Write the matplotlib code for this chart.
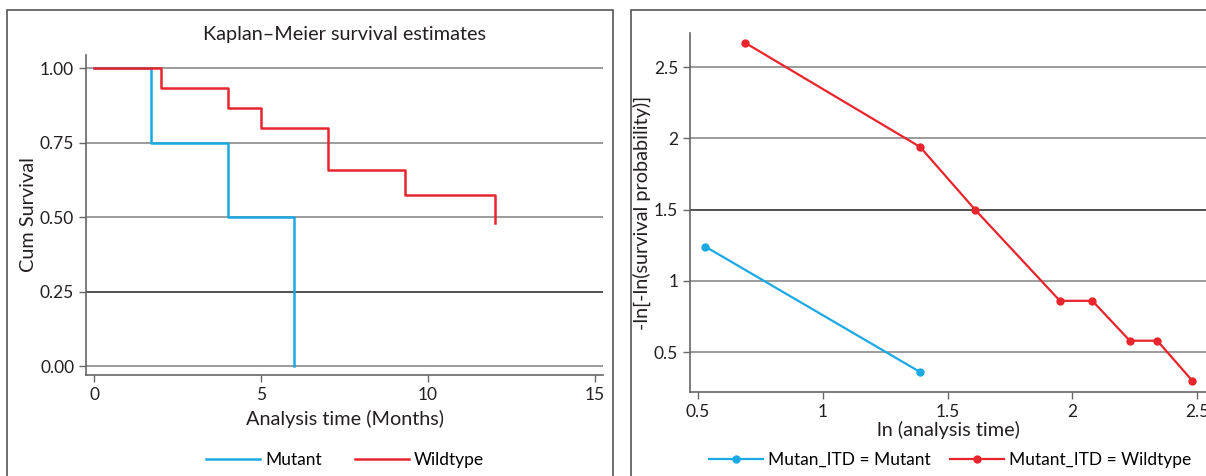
import numpy as np
import matplotlib.pyplot as plt
from matplotlib.patches import Rectangle

plt.rcParams['font.family'] = ['Lato', 'DejaVu Sans']

# Kaplan-Meier steps (months, cumulative survival)
mut_t = [0, 1.7, 4, 6, 6]
mut_s = [1.0, 0.75, 0.50, 0.0, 0.0]
wild_t = [0, 2, 4, 5, 7, 9.3, 12, 12]
wild_s = [1.0, 0.933, 0.867, 0.80, 0.657, 0.575, 0.575, 0.48]

# log-log plot
mut_lx = [0.53, 1.39]
mut_ly = [1.24, 0.36]
wild_lx = [0.69, 1.39, 1.61, 1.95, 2.08, 2.23, 2.34, 2.48]
wild_ly = [2.67, 1.94, 1.50, 0.86, 0.86, 0.58, 0.58, 0.30]

km_xticks = [0, 5, 10, 15]
km_yticks = [0.0, 0.25, 0.5, 0.75, 1.0]
ll_xticks = [0.5, 1, 1.5, 2, 2.5]
ll_yticks = [0.5, 1, 1.5, 2, 2.5]

BLUE = '#1aa9e3'
RED = '#e8242c'
GRID = '#8a8a8a'
TXT = '#231f20'
LBL = 14.3
TCK = 12.5

fig = plt.figure(figsize=(12.06, 4.76), dpi=100)

# panel frames
for x0, w in [(7 / 1206, 606 / 1206), (631 / 1206, 600 / 1206)]:
    fig.add_artist(Rectangle((x0, -0.05), w, 1 - 10 / 476 + 0.05, transform=fig.transFigure,
                             fill=False, edgecolor='#555555', lw=1.2))


def style(ax):
    for s in ['top', 'right']:
        ax.spines[s].set_visible(False)
    for s in ['left', 'bottom']:
        ax.spines[s].set_color('#666666')
        ax.spines[s].set_linewidth(1.2)
    ax.tick_params(direction='out', length=5, width=1, color='#666666',
                   labelsize=TCK, labelcolor=TXT)
    ax.set_facecolor('none')


# left: Kaplan-Meier
ax1 = fig.add_axes([86 / 1206, 1 - 375 / 476, 517 / 1206, 320 / 476])
style(ax1)
for y in km_yticks:
    ax1.axhline(y, color=GRID if y != 0.25 else '#333333', lw=1.2, zorder=0)
ax1.step(mut_t, mut_s, where='post', color=BLUE, lw=1.8, label='Mutant')
ax1.step(wild_t, wild_s, where='post', color=RED, lw=1.8, label='Wildtype')
ax1.set_xlim(-0.24, 15.24)
ax1.set_ylim(-0.03, 1.044)
ax1.set_xticks(km_xticks)
ax1.set_yticks(km_yticks)
ax1.set_yticklabels(['%.2f' % v for v in km_yticks])
ax1.set_title('Kaplan–Meier survival estimates', fontsize=LBL, color=TXT, pad=11)
ax1.set_xlabel('Analysis time (Months)', fontsize=LBL, color=TXT, labelpad=5)
ax1.set_ylabel('Cum Survival', fontsize=LBL, color=TXT, labelpad=2)
ax1.legend(loc='center', bbox_to_anchor=(345 / 1206, 1 - 460 / 476), bbox_transform=fig.transFigure,
           ncol=2, frameon=False, fontsize=TCK, handlelength=3.1, columnspacing=1.9, handletextpad=0.3)

# right: log-log
ax2 = fig.add_axes([690 / 1206, 1 - 392 / 476, 516 / 1206, 359 / 476])
style(ax2)
for y in ll_yticks:
    ax2.axhline(y, color=GRID if y != 1.5 else '#333333', lw=1.2, zorder=0)
ax2.plot(mut_lx, mut_ly, color=BLUE, lw=1.6, marker='o', ms=5, label='Mutan_ITD = Mutant')
ax2.plot(wild_lx, wild_ly, color=RED, lw=1.6, marker='o', ms=5, label='Mutant_ITD = Wildtype')
ax2.set_xlim(0.468, 0.5 + (1206 - 698) / 249.6)
ax2.set_ylim(0.22, 2.74)
ax2.set_xticks(ll_xticks)
ax2.set_xticklabels(['0.5', '1', '1.5', '2', '2.5'])
ax2.set_yticks(ll_yticks)
ax2.set_yticklabels(['0.5', '1', '1.5', '2', '2.5'])
ax2.set_xlabel('ln (analysis time)', fontsize=LBL, color=TXT, labelpad=1)
ax2.set_ylabel('-ln[-ln(survival probability)]', fontsize=LBL, color=TXT, labelpad=2)
ax2.legend(loc='center', bbox_to_anchor=(950 / 1206, 1 - 460 / 476), bbox_transform=fig.transFigure,
           ncol=2, frameon=False, fontsize=TCK, handlelength=3.1, columnspacing=1.1, handletextpad=0.3)

fig.savefig('out.png', dpi=100)
